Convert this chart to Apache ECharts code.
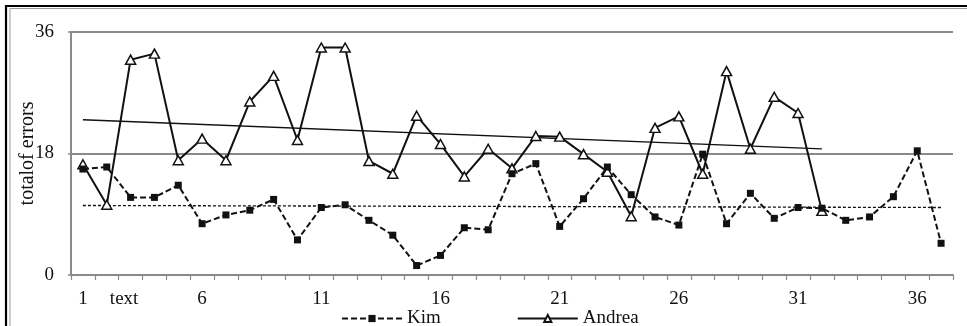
<!DOCTYPE html>
<html>
<head>
<meta charset="utf-8">
<script src="https://cdn.jsdelivr.net/npm/echarts@6/dist/echarts.min.js"></script>
<style>
  html, body { margin: 0; padding: 0; background: #fff; }
  #chart { width: 967px; height: 326px; }
</style>
</head>
<body>
<div id="chart"></div>
<script>
// Session numbers 1..37
const categories = Array.from({ length: 37 }, (_, i) => String(i + 1));

// Labels printed under the axis (blank = tick only)
const tickLabels = [
  '1', '', 'text', '', '', '6', '', '', '', '', '11', '', '', '', '', '16', '', '', '', '',
  '21', '', '', '', '', '26', '', '', '', '', '31', '', '', '', '', '36', ''
];

// Total of errors per session
const kim = [
  15.7, 16.0, 11.5, 11.5, 13.3, 7.6, 8.9, 9.6, 11.2, 5.2,
  10.0, 10.4, 8.1, 5.9, 1.4, 2.9, 7.0, 6.7, 15.0, 16.5,
  7.2, 11.3, 16.0, 11.9, 8.6, 7.4, 17.9, 7.6, 12.1, 8.4,
  10.0, 9.9, 8.1, 8.6, 11.6, 18.4, 4.7
];
const andrea = [
  16.4, 10.4, 31.9, 32.8, 17.0, 20.2, 17.0, 25.7, 29.5, 20.0,
  33.7, 33.7, 16.9, 15.0, 23.6, 19.4, 14.6, 18.7, 15.8, 20.6,
  20.5, 17.9, 15.3, 8.7, 21.8, 23.5, 15.0, 30.2, 18.7, 26.4,
  24.0, 9.5
];

// Linear trend lines: [category index, value] at both ends
const kimTrend = [[0, 10.3], [36, 10.0]];
const andreaTrend = [[0, 23.0], [31, 18.7]];

const yTicks = { min: 0, max: 36, interval: 18 };

const FONT = '"Liberation Serif", "DejaVu Serif", serif';
const FS = 19;
const INK = '#111';
const AXIS_GRAY = '#8a8a8a';

const chart = echarts.init(document.getElementById('chart'), null, { renderer: 'canvas' });

chart.setOption({
  animation: false,
  backgroundColor: '#fff',
  textStyle: { fontFamily: FONT },
  graphic: [
    {
      type: 'rect', silent: true, z: 0,
      shape: { x: 6, y: 6, width: 1100, height: 500 },
      style: { fill: 'none', stroke: '#000', lineWidth: 2.2 }
    },
    {
      type: 'rect', silent: true, z: 0,
      shape: { x: 10, y: 8.5, width: 1100, height: 500 },
      style: { fill: 'none', stroke: '#9a9a9a', lineWidth: 1 }
    }
  ],
  grid: { left: 71, right: 14, top: 32, bottom: 51, containLabel: false, outerBoundsMode: 'none' },
  legend: {
    data: ['Kim', 'Andrea'],
    left: 336,
    top: 304,
    itemWidth: 60,
    itemHeight: 9,
    itemGap: 76,
    textStyle: { fontFamily: FONT, fontSize: FS, color: INK },
    selectedMode: false
  },
  xAxis: {
    type: 'category',
    data: categories,
    boundaryGap: true,
    axisLine: { lineStyle: { color: AXIS_GRAY, width: 2 } },
    axisTick: { show: true, interval: 0, length: 5, lineStyle: { color: AXIS_GRAY, width: 1.2 } },
    axisLabel: {
      interval: 0,
      margin: 15,
      fontFamily: FONT,
      fontSize: FS,
      color: INK,
      formatter: (v, i) => tickLabels[i] === 'text' ? '{t|text}' : tickLabels[i],
      rich: { t: { fontFamily: FONT, fontSize: FS, color: INK, padding: [0, 13, 0, 0] } }
    },
    splitLine: { show: false }
  },
  yAxis: {
    type: 'value',
    min: yTicks.min,
    max: yTicks.max,
    interval: yTicks.interval,
    name: 'totalof errors',
    nameLocation: 'middle',
    nameGap: 33,
    nameRotate: 90,
    nameMoveOverlap: false,
    nameTextStyle: { fontFamily: FONT, fontSize: 20, color: INK },
    axisLine: { show: true, lineStyle: { color: AXIS_GRAY, width: 2 } },
    axisTick: { show: true, length: 3, lineStyle: { color: AXIS_GRAY, width: 1.5 } },
    axisLabel: { margin: 17, fontFamily: FONT, fontSize: FS, color: INK },
    splitLine: { show: true, lineStyle: { color: AXIS_GRAY, width: 2 } }
  },
  series: [
    {
      name: 'Kim',
      type: 'line',
      data: kim,
      z: 4,
      symbol: 'rect',
      symbolSize: 7,
      itemStyle: { color: INK, borderColor: INK, borderWidth: 0 },
      lineStyle: { color: INK, width: 2, type: [6, 3] }
    },
    {
      name: 'Andrea',
      type: 'line',
      data: andrea,
      z: 3,
      symbol: 'triangle',
      symbolSize: [10, 9],
      itemStyle: { color: '#fff', borderColor: INK, borderWidth: 1.5 },
      lineStyle: { color: INK, width: 2, type: 'solid' }
    },
    {
      name: 'Kim trend',
      type: 'line',
      data: kimTrend,
      z: 2,
      symbol: 'none',
      lineStyle: { color: INK, width: 1.3, type: [3, 2] },
      silent: true
    },
    {
      name: 'Andrea trend',
      type: 'line',
      data: andreaTrend,
      z: 2,
      symbol: 'none',
      lineStyle: { color: INK, width: 1.3, type: 'solid' },
      silent: true
    }
  ]
});
</script>
</body>
</html>
